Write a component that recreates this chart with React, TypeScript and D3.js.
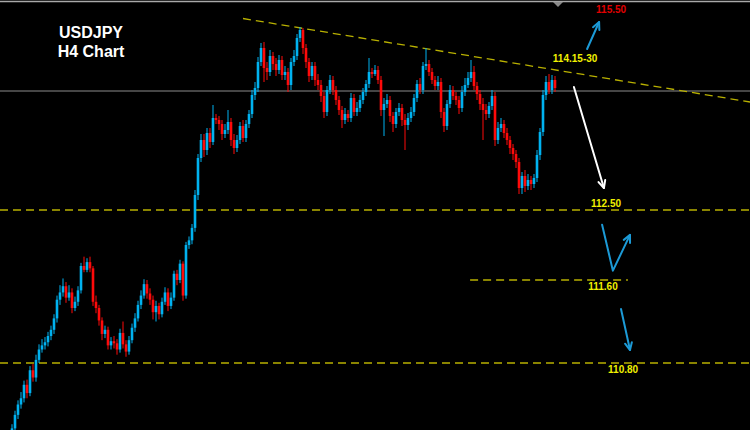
import React from 'react';
import * as d3 from 'd3';

const W = 750;
const H = 430;

const firstOpen = 110.05;
const closes = [
  110.17,110.30,110.40,110.46,110.59,110.51,110.73,110.66,110.83,110.93,
  110.97,111.00,111.06,111.12,111.23,111.41,111.48,111.54,111.43,111.48,
  111.33,111.39,111.50,111.78,111.73,111.83,111.75,111.39,111.33,111.21,
  111.08,111.12,110.97,111.01,110.99,110.93,111.09,110.98,110.91,111.02,
  111.14,111.23,111.36,111.45,111.56,111.47,111.41,111.29,111.35,111.27,
  111.39,111.48,111.35,111.43,111.68,111.60,111.81,111.45,112.05,112.11,
  112.27,112.65,113.02,113.20,113.10,113.27,113.18,113.42,113.40,113.36,
  113.26,113.30,113.38,113.20,113.12,113.20,113.34,113.22,113.36,113.46,
  113.65,113.72,113.98,114.12,113.92,113.88,114.04,113.96,113.90,114.00,
  113.85,113.88,113.75,113.98,114.04,114.22,114.30,114.12,113.98,113.84,
  113.94,113.80,113.75,113.64,113.48,113.70,113.80,113.70,113.60,113.50,
  113.40,113.46,113.42,113.62,113.48,113.52,113.60,113.68,113.76,113.88,
  113.86,113.90,113.80,113.50,113.56,113.60,113.44,113.36,113.48,113.52,
  113.40,113.35,113.42,113.48,113.62,113.76,113.70,113.94,113.96,113.88,
  113.80,113.74,113.78,113.48,113.34,113.56,113.70,113.64,113.60,113.52,
  113.68,113.75,113.82,113.88,113.74,113.66,113.56,113.50,113.46,113.54,
  113.64,113.20,113.32,113.36,113.27,113.20,113.12,113.06,112.98,112.72,
  112.84,112.74,112.80,112.76,112.82,113.05,113.28,113.65,113.78,113.70,
  113.80,113.72,
];
const highs = [
  110.21,110.34,110.44,110.52,110.63,110.64,110.77,110.79,110.88,110.98,
  111.03,111.05,111.10,111.16,111.27,111.45,111.55,111.62,111.58,111.55,
  111.52,111.44,111.54,111.82,111.90,111.88,111.90,111.78,111.45,111.36,
  111.24,111.16,111.15,111.05,111.06,111.03,111.13,111.20,111.02,111.06,
  111.18,111.28,111.40,111.50,111.61,111.60,111.52,111.45,111.40,111.38,
  111.43,111.53,111.52,111.48,111.72,111.73,111.86,111.84,112.09,112.16,
  112.32,112.70,113.06,113.26,113.26,113.32,113.32,113.55,113.46,113.44,
  113.40,113.36,113.50,113.42,113.26,113.25,113.38,113.40,113.40,113.50,
  113.70,113.78,114.03,114.17,114.18,113.98,114.10,114.08,114.02,114.05,
  114.04,113.94,113.92,114.02,114.10,114.26,114.33,114.32,114.16,114.02,
  113.98,113.98,113.86,113.80,113.68,113.74,113.85,113.84,113.74,113.64,
  113.54,113.52,113.50,113.67,113.66,113.58,113.65,113.72,113.80,114.02,
  113.92,113.95,113.94,113.84,113.62,113.66,113.64,113.48,113.52,113.57,
  113.56,113.46,113.47,113.53,113.66,113.80,113.82,113.98,114.12,114.00,
  113.92,113.84,113.84,113.82,113.52,113.60,113.75,113.74,113.68,113.64,
  113.74,113.82,113.88,114.00,113.94,113.78,113.70,113.62,113.56,113.58,
  113.70,113.68,113.38,113.42,113.40,113.32,113.24,113.16,113.10,113.02,
  112.88,112.90,112.86,112.84,112.86,113.10,113.32,113.70,113.84,113.86,
  113.85,113.84,
];
const lows = [
  110.02,110.12,110.26,110.36,110.42,110.46,110.48,110.62,110.62,110.80,
  110.90,110.93,110.96,111.02,111.08,111.19,111.36,111.44,111.38,111.40,
  111.28,111.30,111.35,111.47,111.70,111.70,111.70,111.35,111.28,111.16,
  111.02,111.04,110.93,110.93,110.94,110.88,110.90,110.94,110.86,110.88,
  110.99,111.10,111.20,111.32,111.42,111.42,111.36,111.22,111.20,111.22,
  111.24,111.36,111.30,111.32,111.40,111.55,111.57,111.40,111.42,112.00,
  112.06,112.22,112.60,112.98,113.03,113.05,113.12,113.15,113.36,113.30,
  113.20,113.22,113.26,113.14,113.06,113.08,113.16,113.18,113.18,113.32,
  113.42,113.60,113.68,113.94,113.78,113.80,113.84,113.90,113.84,113.86,
  113.80,113.80,113.68,113.70,113.94,114.00,114.18,114.06,113.92,113.78,
  113.80,113.74,113.70,113.58,113.42,113.44,113.66,113.65,113.55,113.45,
  113.32,113.36,113.38,113.38,113.44,113.44,113.48,113.56,113.64,113.72,
  113.82,113.84,113.76,113.44,113.24,113.52,113.38,113.28,113.32,113.44,
  113.34,113.10,113.30,113.38,113.44,113.58,113.66,113.66,113.90,113.84,
  113.76,113.70,113.70,113.42,113.28,113.30,113.52,113.60,113.55,113.46,
  113.48,113.64,113.72,113.78,113.70,113.60,113.50,113.20,113.40,113.42,
  113.50,113.14,113.16,113.28,113.22,113.15,113.06,113.00,112.92,112.66,
  112.66,112.68,112.70,112.70,112.72,112.78,113.00,113.24,113.60,113.66,
  113.66,113.68,
];

const currentPrice = 113.69;
const trendStart = { bar: 77, price: 114.415 };
const trendEnd = { bar: 246, price: 113.58 };

const levelPrices = [112.50, 111.60, 110.80];
const levelLabels = ['112.50', '111.60', '110.80'];
const levelLabelBars = [198, 197, 203.7];
const levelFromBars = [-5, 152.7, -5];
const levelToBars = [250, 205.3, 250];

const targetLabels = ['114.15-30', '115.50'];
const targetBars = [187.7, 199.7];
const targetPrices = [113.98, 114.47];

const arrowUp = [[191.7, 114.11], [195.7, 114.38]];
const arrowWhite = [[187.3, 113.73], [197.3, 112.72]];
const arrowV = [[196.7, 112.31], [200.3, 111.72], [206, 112.18]];
const arrowDown = [[203, 111.32], [206, 110.925]];

const BLUE = '#00b2f0';
const RED = '#ff0a0a';
const ARROW_BLUE = '#1c9ad6';
const LEVEL = '#b8b000';

export default function App() {
  const x = d3.scaleLinear().domain([0, closes.length - 1]).range([12, 555]);
  const y = d3.scaleLinear()
    .domain([110.0, 110.8, 111.6, 112.5, 114.6])
    .range([446, 363, 280, 210, 0]);

  const candles = closes.map((c, i) => {
    const o = i === 0 ? firstOpen : closes[i - 1];
    return { i, o, c, h: highs[i], l: lows[i] };
  });

  const line = d3.line<number[]>().x(d => x(d[0])).y(d => y(d[1]));

  const arrow = (pts: number[][], color: string, key: string) => {
    const n = pts.length;
    const tx = x(pts[n - 1][0]);
    const ty = y(pts[n - 1][1]);
    const fx = x(pts[n - 2][0]);
    const fy = y(pts[n - 2][1]);
    const ang = Math.atan2(ty - fy, tx - fx);
    const len = 8;
    const spread = 0.45;
    const h1 = [tx - len * Math.cos(ang - spread), ty - len * Math.sin(ang - spread)];
    const h2 = [tx - len * Math.cos(ang + spread), ty - len * Math.sin(ang + spread)];
    return (
      <g key={key} stroke={color} strokeWidth={2} fill="none" strokeLinecap="round" strokeLinejoin="round">
        <path d={line(pts) || ''} />
        <path d={`M${h1[0]},${h1[1]}L${tx},${ty}L${h2[0]},${h2[1]}`} />
      </g>
    );
  };

  const lastX = x(closes.length - 1);

  return (
    <div style={{ position: 'fixed', left: 0, top: 0, width: W, height: H }}>
      <svg width={W} height={H} style={{ display: 'block', background: '#000' }}>
        <rect x={0} y={0} width={W} height={H} fill="#000" />
        <line x1={0} x2={W} y1={1.5} y2={1.5} stroke="#a8a8a8" strokeWidth={1.5} />
        <path d={`M${lastX - 2},2L${lastX + 8},2L${lastX + 3},7Z`} fill="#8a8a8a" />

        <line x1={0} x2={W} y1={y(currentPrice)} y2={y(currentPrice)} stroke="#5e5e5e" strokeWidth={1.5} />

        {levelPrices.map((p, k) => (
          <line key={'lv' + k}
            x1={Math.max(0, x(levelFromBars[k]))} x2={Math.min(W, x(levelToBars[k]))}
            y1={y(p)} y2={y(p)}
            stroke={LEVEL} strokeWidth={1.3} strokeDasharray="8,5" />
        ))}

        <line x1={x(trendStart.bar)} y1={y(trendStart.price)} x2={x(trendEnd.bar)} y2={y(trendEnd.price)}
          stroke={LEVEL} strokeWidth={1.3} strokeDasharray="8,5" />

        {candles.map(d => {
          const up = d.c >= d.o;
          const col = up ? BLUE : RED;
          const top = y(Math.max(d.o, d.c));
          const bot = y(Math.min(d.o, d.c));
          const cx = x(d.i);
          return (
            <g key={'c' + d.i}>
              <line x1={cx} x2={cx} y1={y(d.h)} y2={y(d.l)} stroke={col} strokeWidth={1} />
              <rect x={cx - 1.3} y={top} width={2.6} height={Math.max(1, bot - top)} fill={col} />
            </g>
          );
        })}

        {arrow(arrowUp, ARROW_BLUE, 'a1')}
        {arrow(arrowWhite, '#ffffff', 'a2')}
        {arrow(arrowV, ARROW_BLUE, 'a3')}
        {arrow(arrowDown, ARROW_BLUE, 'a4')}

        {levelPrices.map((p, k) => (
          <text key={'lt' + k} x={x(levelLabelBars[k])} y={y(p) + (k === 0 ? -3 : 10)}
            textAnchor="middle" fontFamily="Liberation Sans, Arial, sans-serif" fontWeight="bold"
            fontSize={10} fill="#f0f000">{levelLabels[k]}</text>
        ))}

        <text x={x(targetBars[0])} y={y(targetPrices[0])} textAnchor="middle"
          fontFamily="Liberation Sans, Arial, sans-serif" fontWeight="bold" fontSize={10} fill="#f0f000">
          {targetLabels[0]}
        </text>
        <text x={x(targetBars[1])} y={y(targetPrices[1])} textAnchor="middle"
          fontFamily="Liberation Sans, Arial, sans-serif" fontWeight="bold" fontSize={10} fill="#e00000">
          {targetLabels[1]}
        </text>

        <text x={91} y={38} textAnchor="middle" fontFamily="Liberation Sans, Arial, sans-serif"
          fontWeight="bold" fontSize={16} fill="#ffffff">USDJPY</text>
        <text x={91} y={57} textAnchor="middle" fontFamily="Liberation Sans, Arial, sans-serif"
          fontWeight="bold" fontSize={16} fill="#ffffff">H4 Chart</text>
      </svg>
    </div>
  );
}
